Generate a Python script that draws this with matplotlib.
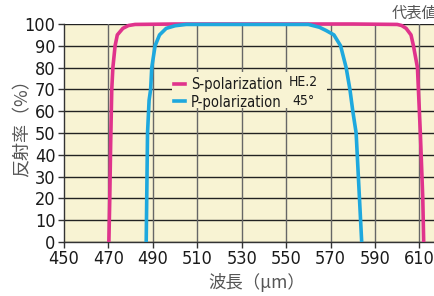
import matplotlib
matplotlib.use("Agg")
import matplotlib.pyplot as plt
from matplotlib.lines import Line2D
from matplotlib.patches import Rectangle
from matplotlib import font_manager

# data
s_wl = [470.2, 470.6, 471.0, 471.5, 472.0, 473.0, 474.0, 476.5, 479.0, 482.0,
        500.0, 540.0, 580.0, 600.0, 602.0, 604.0, 606.2, 607.3, 609.1, 610.4, 611.5, 611.9]
s_r = [0, 20, 45, 70, 80, 90, 95, 98, 99.3, 99.8,
       100, 100, 100, 99.8, 99.3, 98, 95, 90, 80, 50, 20, 0]
p_wl = [487.0, 487.3, 487.6, 488.3, 489.0, 489.5, 491.0, 493.0, 496.0, 500.0, 505.0,
        560.0, 565.0, 568.0, 571.5, 574.5, 577.0, 578.7, 580.0, 581.5, 582.5, 583.5, 584.0]
p_r = [0, 25, 50, 65, 70, 80, 90, 95, 98, 99.2, 99.8,
       99.8, 98.5, 97, 95, 90, 80, 70, 60, 50, 30, 10, 0]
xticks = [450, 470, 490, 510, 530, 550, 570, 590, 610]
yticks = list(range(0, 101, 10))

# look for some condensed face, the reference uses a narrow sans
narrow = None
for f in font_manager.fontManager.ttflist:
    nm = f.name + " " + str(f.stretch)
    if ("Narrow" in nm or "Condensed" in nm or f.stretch in ("condensed", "semi-condensed")) \
            and f.style == "normal" and f.weight in (400, "normal", "regular", 500, "medium"):
        narrow = f.fname
        break
if narrow is None:
    for f in font_manager.fontManager.ttflist:
        if "Condensed" in f.fname and "Oblique" not in f.fname and "Bold" not in f.fname:
            narrow = f.fname
            break


def numfont(size):
    if narrow:
        return font_manager.FontProperties(fname=narrow, size=size)
    return font_manager.FontProperties(family="DejaVu Sans", size=size * 0.85)


jp = ["Noto Sans CJK JP", "DejaVu Sans"]

magenta = "#e0338c"
cyan = "#1ea8de"
bg = "#f8f3d3"

fig = plt.figure(figsize=(4.35, 2.96), dpi=100)
ax = fig.add_axes([64 / 435, 54 / 296, 371 / 435, 218 / 296])
ax.set_facecolor(bg)
ax.set_xlim(450, 617)
ax.set_ylim(0, 100)

for y in yticks:
    ax.axhline(y, color="#222222", lw=1.0, zorder=1)
for x in xticks[1:]:
    ax.axvline(x, color="#666666", lw=1.0, zorder=1)

ax.plot(s_wl, s_r, color=magenta, lw=2.6, zorder=3, clip_on=False, solid_capstyle="butt")
ax.plot(p_wl, p_r, color=cyan, lw=2.6, zorder=3, clip_on=False, solid_capstyle="butt")

for sp in ["top", "right"]:
    ax.spines[sp].set_visible(False)
for sp in ["left", "bottom"]:
    ax.spines[sp].set_color("#333333")
    ax.spines[sp].set_linewidth(1.0)

ax.set_xticks(xticks)
ax.set_yticks(yticks)
ax.tick_params(direction="out", length=4, width=1, color="#333333", pad=2)
for lab in ax.get_xticklabels() + ax.get_yticklabels():
    lab.set_fontproperties(numfont(13))
    lab.set_color("#1a1a1a")

# legend backdrop hides the grid behind the legend block
ax.add_patch(Rectangle((108 / 371, 134 / 218), 155 / 371, 36 / 218, transform=ax.transAxes,
                       facecolor=bg, edgecolor="none", zorder=2))

handles = [Line2D([], [], color=magenta, lw=2.6), Line2D([], [], color=cyan, lw=2.6)]
leg = ax.legend(handles, ["S-polarization", "P-polarization"], loc="upper left",
                bbox_to_anchor=(106 / 371, 1 - 49 / 218), frameon=False,
                handlelength=0.8, handletextpad=0.4, labelspacing=0.2,
                borderpad=0.25, borderaxespad=0, prop=numfont(10.5))
leg.set_zorder(4)
for t in leg.get_texts():
    t.set_color("#1a1a1a")

fig.text(318 / 435, 1 - 82 / 296, "HE.2", ha="right", va="center",
         fontproperties=numfont(10), color="#1a1a1a", zorder=5)
fig.text(315 / 435, 1 - 101 / 296, "45°", ha="right", va="center",
         fontproperties=numfont(10), color="#1a1a1a", zorder=5)

fig.text(22 / 435, 1 - 124 / 296, "反射率（%）", rotation=90, ha="center", va="center",
         family=jp, fontsize=13, color="#555555")
fig.text(257 / 435, 1 - 282 / 296, "波長（μm）", ha="center", va="center",
         family=jp, fontsize=12.5, color="#555555")
fig.text(392 / 435, 1 - 13 / 296, "代表値", ha="left", va="center",
         family=jp, fontsize=11, color="#555555")

fig.savefig("out.png", dpi=100)
